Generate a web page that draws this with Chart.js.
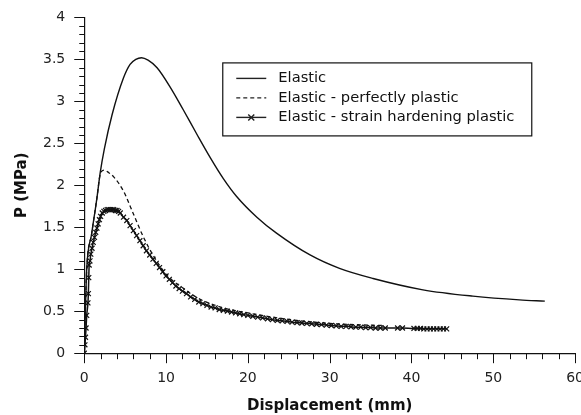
<!DOCTYPE html>
<html>
<head>
<meta charset="utf-8">
<script src="https://cdn.jsdelivr.net/npm/chart.js@4/dist/chart.umd.min.js"></script>
<style>
  html, body { margin: 0; padding: 0; background: #fff; overflow: hidden; }
  #wrap { width: 591px; height: 415px; }
</style>
</head>
<body>
<div id="wrap"><canvas id="pChart" width="591" height="415"></canvas></div>
<script>
// displacement (mm) / pressure (MPa)
const elasticX = [0, 0.15, 0.3, 0.9, 1.55, 1.95, 2.45, 3.4, 4.8, 5.6, 6.3, 7.0, 7.8, 8.9, 10.5, 12.1, 13.7, 15.4, 17.0, 18.6, 21.1, 23.5, 27.6, 31.2, 35.3, 41.4, 47.5, 53.2, 56.3];
const elasticY = [0, 0.55, 1.0, 1.42, 1.85, 2.15, 2.43, 2.84, 3.28, 3.44, 3.50, 3.52, 3.49, 3.40, 3.17, 2.90, 2.62, 2.33, 2.08, 1.87, 1.62, 1.43, 1.17, 1.01, 0.89, 0.755, 0.68, 0.635, 0.62];

const perfectX = [0, 0.15, 0.3, 0.9, 1.55, 1.95, 2.4, 3.0, 3.6, 4.8, 6.0, 7.2, 8.45, 10.1, 12, 14, 17, 20, 23, 26, 30, 33, 36.5];
const perfectY = [0, 0.55, 1.0, 1.42, 1.85, 2.13, 2.18, 2.15, 2.1, 1.93, 1.66, 1.39, 1.16, 0.93, 0.78, 0.65, 0.54, 0.48, 0.43, 0.39, 0.355, 0.34, 0.33];

const hardX = [0, 0.08, 0.15, 0.22, 0.3, 0.45, 0.5, 0.55, 0.6, 0.7, 0.8, 0.95, 1.1, 1.25, 1.4, 1.55, 1.7, 1.85, 2.0, 2.2, 2.4, 2.6, 2.8, 3.0, 3.2, 3.4, 3.6, 3.8, 4.0, 4.2, 4.4,
  4.8, 5.2, 5.6, 6.0, 6.4, 6.8, 7.2, 7.6, 8.0, 8.4, 8.8, 9.2, 9.6, 10.0, 10.4, 10.8, 11.2, 11.6, 12.0,
  12.5, 13.0, 13.5, 14.0, 14.5, 15.0, 15.5, 16.0, 16.5, 17.0, 17.5, 18.0, 18.5, 19.0, 19.5, 20.0,
  20.6, 21.2, 21.8, 22.4, 23.0, 23.6, 24.2, 24.8, 25.4, 26.0, 26.6, 27.2, 27.8, 28.4, 29.0, 29.6, 30.2,
  30.8, 31.4, 32.0, 32.6, 33.2, 33.8, 34.4, 35.0, 35.6, 36.2, 36.8, 38.3, 38.9,
  40.3, 40.7, 41.1, 41.5, 41.9, 42.3, 42.7, 43.1, 43.5, 43.9, 44.3];
const hardY = [0, 0.1, 0.19, 0.3, 0.45, 0.6, 0.71, 0.9, 1.05, 1.1, 1.18, 1.25, 1.32, 1.38, 1.44, 1.49, 1.54, 1.59, 1.63, 1.67, 1.69, 1.7, 1.71, 1.71, 1.71, 1.71, 1.71, 1.7, 1.7, 1.69, 1.67,
  1.62, 1.58, 1.52, 1.46, 1.40, 1.34, 1.28, 1.22, 1.17, 1.12, 1.07, 1.02, 0.97, 0.92, 0.88, 0.84, 0.80, 0.77, 0.74,
  0.71, 0.67, 0.64, 0.61, 0.59, 0.57, 0.55, 0.54, 0.52, 0.51, 0.50, 0.49, 0.48, 0.47, 0.46, 0.45,
  0.44, 0.43, 0.42, 0.41, 0.40, 0.39, 0.385, 0.38, 0.37, 0.365, 0.36, 0.355, 0.35, 0.345, 0.34, 0.335, 0.33,
  0.325, 0.32, 0.32, 0.315, 0.31, 0.31, 0.305, 0.305, 0.30, 0.30, 0.30, 0.30, 0.30,
  0.295, 0.295, 0.295, 0.29, 0.29, 0.29, 0.29, 0.29, 0.29, 0.29, 0.29];

const seriesNames = ["Elastic", "Elastic - perfectly plastic", "Elastic - strain hardening plastic"];

const FONT = "'DejaVu Sans', sans-serif";

function pts(xs, ys) {
  return xs.map((x, i) => ({ x, y: ys[i] }));
}

function isMajor(v, step) {
  const r = v / step;
  return Math.abs(r - Math.round(r)) < 1e-6;
}

// minor / major tick marks drawn outside the axes
const tickMarks = {
  id: "tickMarks",
  afterDraw(chart) {
    const ctx = chart.ctx;
    const area = chart.chartArea;
    ctx.save();
    ctx.strokeStyle = "#111";
    ctx.lineWidth = 1;
    ctx.beginPath();
    chart.scales.y.ticks.forEach(t => {
      const py = Math.round(chart.scales.y.getPixelForValue(t.value)) + 0.5;
      const len = isMajor(t.value, 0.5) ? 10 : 5;
      ctx.moveTo(area.left - len, py);
      ctx.lineTo(area.left, py);
    });
    chart.scales.x.ticks.forEach(t => {
      const px = Math.round(chart.scales.x.getPixelForValue(t.value)) + 0.5;
      const len = isMajor(t.value, 10) ? 10 : 6;
      ctx.moveTo(px, area.bottom);
      ctx.lineTo(px, area.bottom + len);
    });
    ctx.stroke();
    ctx.restore();
  }
};

// boxed legend inside the plot
const boxLegend = {
  id: "boxLegend",
  afterDraw(chart) {
    const ctx = chart.ctx;
    const area = chart.chartArea;
    const left = area.left + 138, top = area.top + 45;
    const w = 309, h = 73;
    ctx.save();
    ctx.fillStyle = "#fff";
    ctx.fillRect(left, top, w, h);
    ctx.strokeStyle = "#111";
    ctx.lineWidth = 1.2;
    ctx.strokeRect(left + 0.5, top + 0.5, w, h);
    ctx.font = "14.7px " + FONT;
    ctx.textBaseline = "middle";
    chart.data.datasets.forEach((ds, i) => {
      const y = top + 16 + i * 19.5;
      ctx.strokeStyle = "#222";
      ctx.lineWidth = 1.4;
      ctx.setLineDash(ds.borderDash || []);
      ctx.beginPath();
      ctx.moveTo(left + 14, y);
      ctx.lineTo(left + 44, y);
      ctx.stroke();
      ctx.setLineDash([]);
      if (ds.pointRadius > 0) {
        ctx.beginPath();
        ctx.moveTo(left + 26, y - 3); ctx.lineTo(left + 32, y + 3);
        ctx.moveTo(left + 32, y - 3); ctx.lineTo(left + 26, y + 3);
        ctx.stroke();
      }
      ctx.fillStyle = "#111";
      ctx.fillText(ds.label, left + 56, y);
    });
    ctx.restore();
  }
};

const ctx = document.getElementById("pChart").getContext("2d");
new Chart(ctx, {
  type: "line",
  data: {
    datasets: [
      {
        label: seriesNames[0],
        data: pts(elasticX, elasticY),
        borderColor: "#111",
        borderWidth: 1.4,
        pointRadius: 0,
        cubicInterpolationMode: "monotone"
      },
      {
        label: seriesNames[1],
        data: pts(perfectX, perfectY),
        borderColor: "#111",
        borderWidth: 1.3,
        borderDash: [4, 3],
        pointRadius: 0,
        cubicInterpolationMode: "monotone"
      },
      {
        label: seriesNames[2],
        data: pts(hardX, hardY),
        borderColor: "#111",
        borderWidth: 1.5,
        pointRadius: 3.5,
        pointStyle: "crossRot",
        pointBorderColor: "#111",
        pointBorderWidth: 1.2,
        cubicInterpolationMode: "monotone"
      }
    ]
  },
  options: {
    responsive: false,
    animation: false,
    devicePixelRatio: 1,
    layout: { padding: { top: 8, left: 13, right: 0, bottom: 0 } },
    scales: {
      x: {
        type: "linear",
        min: 0,
        max: 60,
        grid: { display: false, drawTicks: true, tickLength: 10 },
        border: { display: true, color: "#111", width: 1.2 },
        ticks: {
          stepSize: 2,
          autoSkip: false,
          maxRotation: 0,
          padding: 7,
          color: "#222",
          font: { family: FONT, size: 14 },
          callback: v => isMajor(v, 10) ? String(v) : ""
        },
        title: {
          display: true,
          text: "Displacement (mm)",
          color: "#111",
          font: { family: FONT, size: 15, weight: "bold" },
          padding: { top: 3, bottom: 0 }
        }
      },
      y: {
        min: 0,
        max: 4,
        grid: { display: false, drawTicks: true, tickLength: 10 },
        border: { display: true, color: "#111", width: 1.2 },
        ticks: {
          stepSize: 0.1,
          autoSkip: false,
          padding: 9,
          color: "#222",
          font: { family: FONT, size: 14 },
          callback: v => isMajor(v, 0.5) ? String(Math.round(v * 10) / 10) : ""
        },
        title: {
          display: true,
          text: "P (MPa)",
          color: "#111",
          font: { family: FONT, size: 15, weight: "bold" },
          padding: { top: 0, bottom: 3 }
        }
      }
    },
    plugins: {
      legend: { display: false },
      tooltip: { enabled: false }
    }
  },
  plugins: [tickMarks, boxLegend]
});
</script>
</body>
</html>
